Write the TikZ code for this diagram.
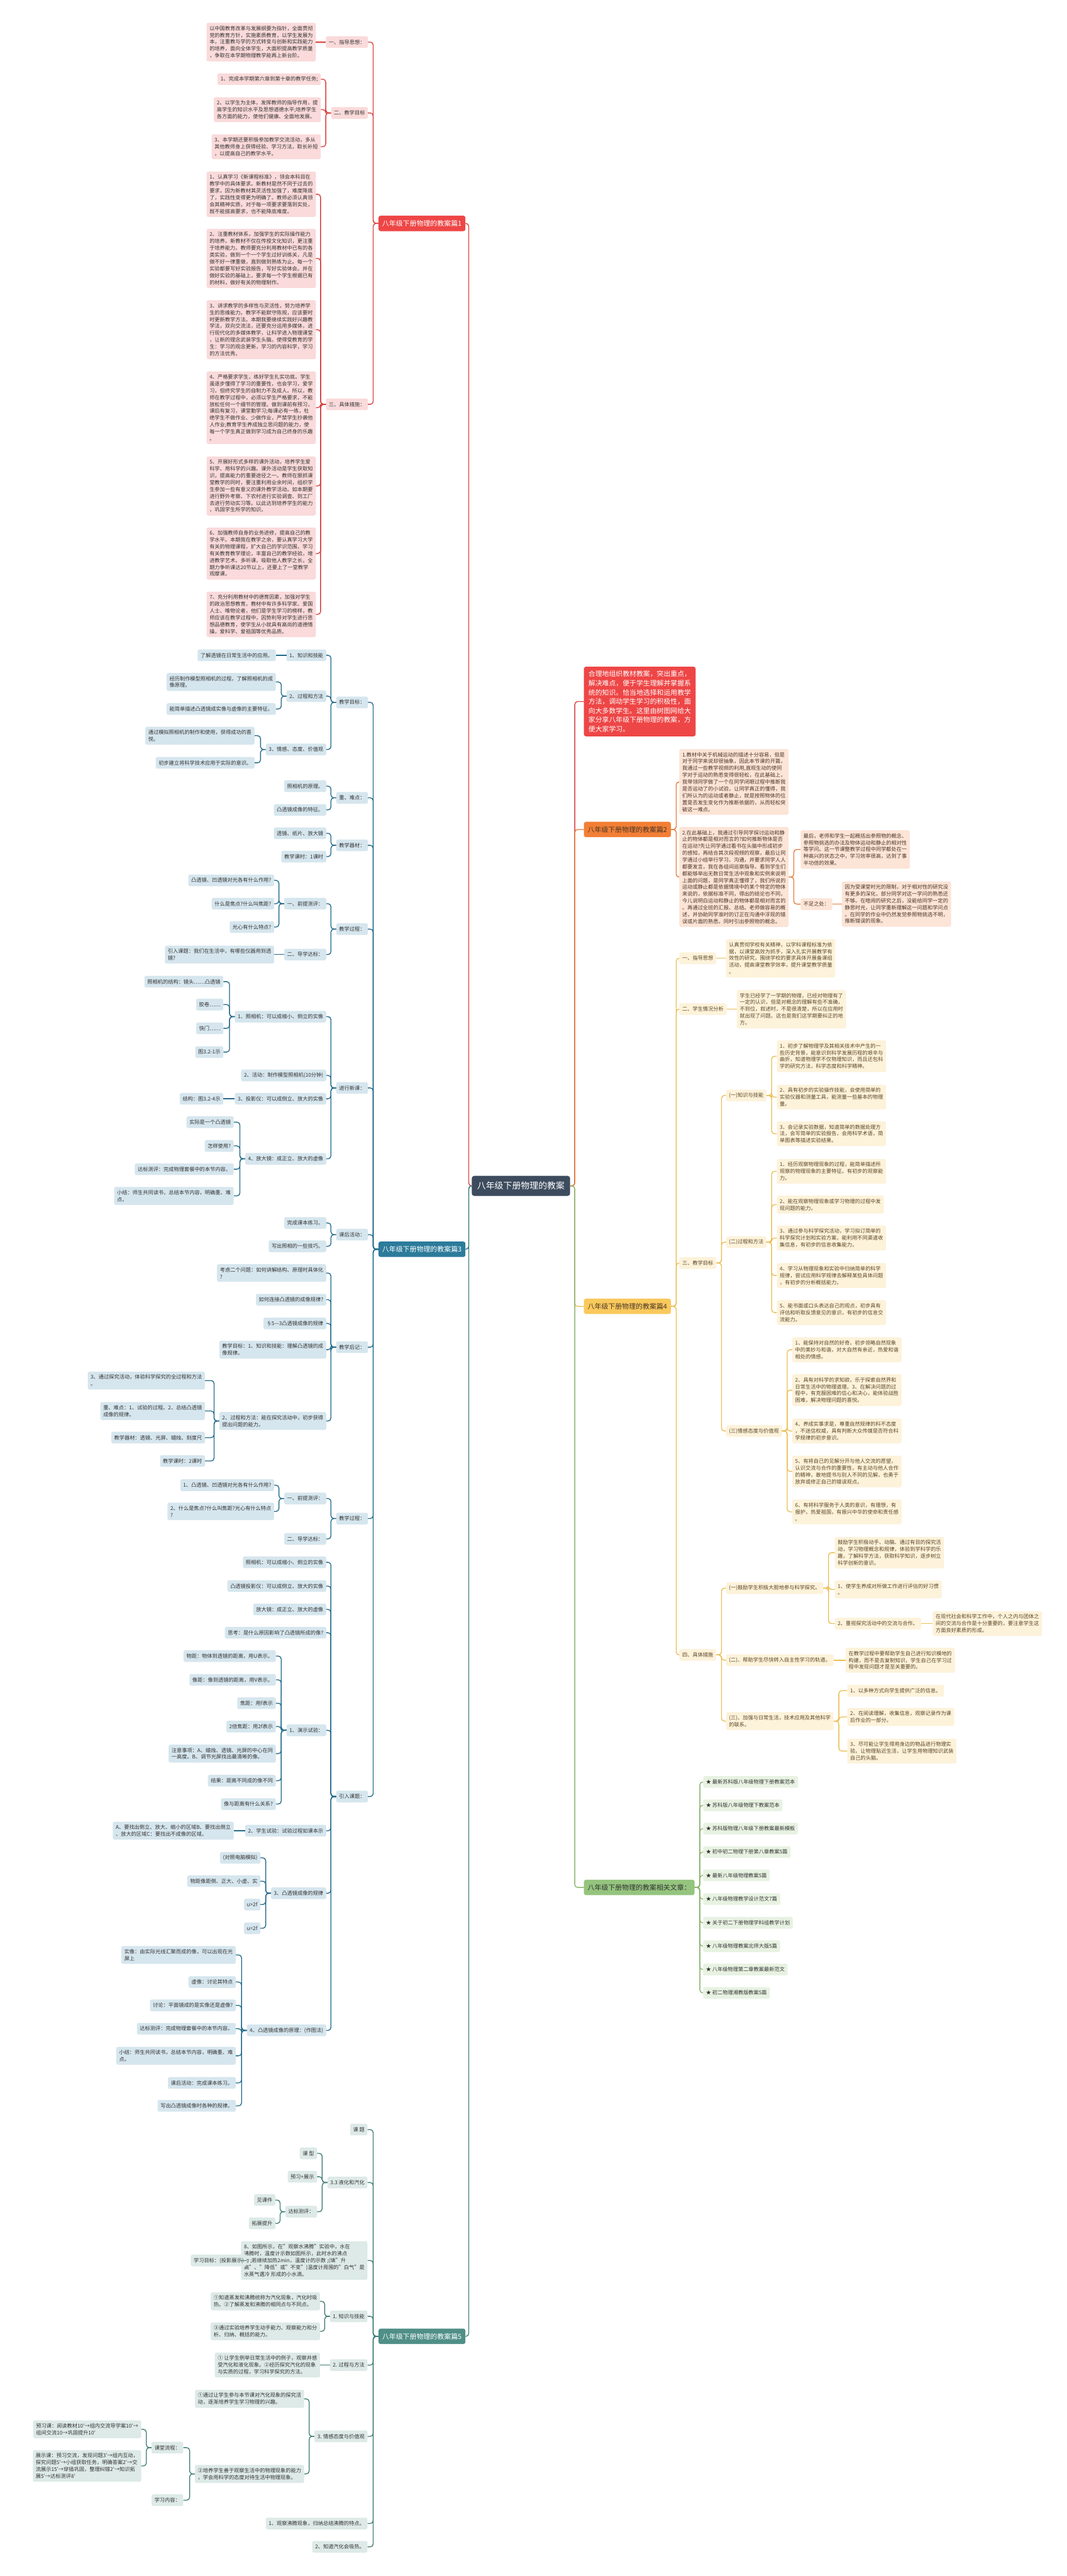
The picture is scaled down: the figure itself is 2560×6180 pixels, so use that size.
\documentclass[tikz,border=0pt]{standalone}
\usepackage{fontspec}
\setmainfont{Noto Sans CJK SC}
\definecolor{redN}{HTML}{EE4646}
\definecolor{redL}{HTML}{D8403F}
\definecolor{pinkF}{HTML}{FADADA}
\definecolor{tealN}{HTML}{2C7B9B}
\definecolor{tealL}{HTML}{22698A}
\definecolor{blueF}{HTML}{D6E6EE}
\definecolor{seaN}{HTML}{4F8F87}
\definecolor{seaL}{HTML}{3F7E76}
\definecolor{seaF}{HTML}{DDEAE7}
\definecolor{ctrN}{HTML}{3D4B5E}
\definecolor{orN}{HTML}{F27F35}
\definecolor{orL}{HTML}{E27A3C}
\definecolor{orF}{HTML}{FCE4D6}
\definecolor{yeN}{HTML}{F9C95C}
\definecolor{yeL}{HTML}{EBBE52}
\definecolor{yeF}{HTML}{FDF2DA}
\definecolor{grN}{HTML}{94C47E}
\definecolor{grL}{HTML}{8BB56F}
\definecolor{grF}{HTML}{E8F2E2}
\definecolor{txtC}{HTML}{333333}
\definecolor{brT}{HTML}{4A3628}
\definecolor{yeT}{HTML}{5A4727}
\newcommand\fsm{\fontsize{12.4}{16.4}\selectfont}
\newcommand\fbig{\fontsize{16.5}{20}\selectfont}
\newcommand\fintro{\fontsize{16.4}{22}\selectfont}
\newcommand\fctr{\fontsize{21}{24}\selectfont}
\newcommand\tol[3]{\foreach \kid in {#3}{\draw[#1] (#2.west) -- ++(-12.5,0) |- (\kid.east);}}
\newcommand\tor[3]{\foreach \kid in {#3}{\draw[#1] (#2.east) -- ++(12.5,0) |- (\kid.west);}}
\newcommand\strL[3]{\draw[#1] (#2.west) -- (#3.east);}
\newcommand\strR[3]{\draw[#1] (#2.east) -- (#3.west);}
\tikzset{
  bx/.style={rounded corners=4pt, inner xsep=7pt, inner ysep=7.5pt, minimum height=28pt, align=left, font=\fsm, text=txtC},
  rbox/.style={bx, fill=pinkF, anchor=east},
  tbox/.style={bx, fill=blueF, anchor=east},
  sbox/.style={bx, fill=seaF, anchor=east},
  obox/.style={bx, fill=orF, anchor=west, text=brT},
  ybox/.style={bx, fill=yeF, anchor=west, text=yeT},
  gbox/.style={bx, fill=grF, anchor=west},
  brn/.style={rounded corners=5pt, inner xsep=9pt, inner ysep=6pt, minimum height=37pt, font=\fbig, anchor=west},
  lnR/.style={draw=redL, line width=2pt, rounded corners=7pt},
  lnT/.style={draw=tealL, line width=2pt, rounded corners=7pt},
  lnS/.style={draw=seaL, line width=2pt, rounded corners=7pt},
  lnO/.style={draw=orL, line width=2pt, rounded corners=7pt},
  lnY/.style={draw=yeL, line width=2pt, rounded corners=7pt},
  lnG/.style={draw=grL, line width=2pt, rounded corners=7pt},
}
\begin{document}
\begin{tikzpicture}[x=1pt,y=-1pt]
\useasboundingbox[fill=white] (0,0) rectangle (2560,6180);
% ---------------- centre
\node[rounded corners=6pt, fill=ctrN, text=white, font=\fctr, inner xsep=13pt, minimum height=48pt] (ctr) at (1250,2845) {八年级下册物理的教案};
% ---------------- 篇1
\node[brn, fill=redN, text=white] (p1) at (908,536) {八年级下册物理的教案篇1};
\node[rbox] (a1) at (883,101) {一、指导思想：};
\node[rbox] (a1t) at (758,101) {以中国教育改革与发展纲要为指针，全面贯彻\\党的教育方针，实施素质教育，以学生发展为\\本，注重教与学的方式转变与创新和实践能力\\的培养，面向全体学生，大面积提高教学质量\\，争取在本学期物理教学能再上新台阶。};
\node[rbox] (a2) at (883,271) {二、教学目标};
\node[rbox] (a2a) at (770,190) {1、完成本学期第六章到第十章的教学任务;};
\node[rbox] (a2b) at (770,263) {2、以学生为主体，发挥教师的指导作用，提\\高学生的知识水平及思想道德水平;培养学生\\各方面的能力，使他们健康、全面地发展。};
\node[rbox] (a2c) at (770,352) {3、本学期还要积极参加教学交流活动，多从\\其他教师身上获得经验、学习方法，取长补短\\，以提高自己的教学水平。};
\node[rbox] (a3) at (883,970) {三、具体措施：};
\node[rbox] (a3a) at (758,466) {1、认真学习《新课程标准》，领会本科目在\\教学中的具体要求。新教材是然不同于过去的\\要求，因为新教材其灵活性加强了，难度降底\\了，实践性变得更为明确了。教师必须认真领\\会其精神实质，对于每一项要求要落到实处，\\既不能拔高要求，也不能降底难度。};
\node[rbox] (a3b) at (758,620) {2、注重教材体系，加强学生的实际操作能力\\的培养。新教材不仅在传授文化知识，更注重\\于培养能力。教师要充分利用教材中已有的各\\类实验，做到一个一个学生过好训练关，凡是\\做不好一律重做，直到做到熟练为止。每一个\\实验都要写好实验报告，写好实验体会。并在\\做好实验的基础上，要求每一个学生根据已有\\的材料，做好有关的物理制作。};
\node[rbox] (a3c) at (758,791) {3、讲求教学的多样性与灵活性，努力培养学\\生的思维能力。教学不能默守陈规，应该要时\\时更新教学方法。本期我要继续实践好兴趣教\\学法，双向交流法，还要充分运用多媒体，进\\行现代化的多媒体教学，让科学进入物理课堂\\，让新的理念武装学生头脑。使得受教育的学\\生：学习的观念更新，学习的内容科学，学习\\的方法优秀。};
\node[rbox] (a3d) at (758,978) {4、严格要求学生，练好学生扎实功底。学生\\虽逐步懂得了学习的重要性，也会学习，爱学\\习，但终究学生的自制力不及成人。所以，教\\师在教学过程中，必须以学生严格要求，不能\\放松任何一个细节的管理。做到课前有预习，\\课后有复习，课堂勤学习;每课必有一练，杜\\绝学生不做作业、少做作业，严禁学生抄袭他\\人作业;教育学生养成独立思问题的能力，使\\每一个学生真正做到学习成为自己终身的乐趣\\。};
\node[rbox] (a3e) at (758,1166) {5、开展好形式多样的课外活动，培养学生爱\\科学、用科学的兴趣。课外活动是学生获取知\\识，提高能力的重要途径之一。教师在狠抓课\\堂教学的同时，要注重利用业余时间，组织学\\生参加一些有意义的课外教学活动。如本期要\\进行野外考察、下农村进行实验调查、到工厂\\去进行劳动实习等。以此达到培养学生的能力\\，巩固学生所学的知识。};
\node[rbox] (a3f) at (758,1328) {6、加强教师自身的业务进修，提高自己的教\\学水平。本期我在教学之余，要认真学习大学\\有关的物理课程，扩大自己的学识范围，学习\\有关教育教学理论，丰富自己的教学经验，增\\进教学艺术。多听课，吸取他人教学之长，全\\期力争听课达20节以上，还要上了一堂教学\\观摩课。};
\node[rbox] (a3g) at (758,1474) {7、充分利用教材中的德育因素，加强对学生\\的政治思想教育。教材中有许多科学家、爱国\\人士、唯物论者，他们是学生学习的榜样，教\\师应该在教学过程中，因势利导对学生进行思\\想品德教育，使学生从小就具有高尚的道德情\\操，爱科学、爱祖国等优秀品质。};
\tol{lnR}{p1}{a1,a2,a3}
\strL{lnR}{a1}{a1t}
\tol{lnR}{a2}{a2a,a2b,a2c}
\tol{lnR}{a3}{a3a,a3b,a3c,a3d,a3e,a3f,a3g}
% ---------------- 篇3
\node[brn, fill=tealN, text=white] (p3) at (908,2997) {八年级下册物理的教案篇3};
\node[tbox] (b1) at (883,1685) {教学目标：};
\node[tbox] (b2) at (883,1914) {重、难点：};
\node[tbox] (b3) at (883,2028) {教学器材：};
\node[tbox] (b4) at (883,2229) {教学过程：};
\node[tbox] (b5) at (883,2610) {进行新课：};
\node[tbox] (b6) at (883,2962) {课后活动：};
\node[tbox] (b7) at (883,3232) {教学后记：};
\node[tbox] (b8) at (883,3643) {教学过程：};
\node[tbox] (b9) at (883,4310) {引入课题：};
\node[tbox] (b1a) at (783,1572) {1、知识和技能};
\node[tbox] (b1b) at (783,1670) {2、过程和方法};
\node[tbox] (b1c) at (783,1798) {3、情感、态度、价值观};
\node[tbox] (b1a1) at (662,1572) {了解透镜在日常生活中的应用。};
\node[tbox] (b1b1) at (662,1636) {经历制作模型照相机的过程，了解照相机的成\\像原理。};
\node[tbox] (b1b2) at (662,1701) {能简单描述凸透镜成实像与虚像的主要特征。};
\node[tbox] (b1c1) at (611,1765) {通过模拟照相机的制作和使用，获得成功的喜\\悦。};
\node[tbox] (b1c2) at (611,1830) {初步建立将科学技术应用于实际的意识。};
\node[tbox] (b2a) at (783,1886) {照相机的原理。};
\node[tbox] (b2b) at (783,1943) {凸透镜成像的特征。};
\node[tbox] (b3a) at (783,1999) {透镜、纸片、放大镜};
\node[tbox] (b3b) at (783,2055) {教学课时：1课时};
\node[tbox] (b4a) at (783,2168) {一、前提测评：};
\node[tbox] (b4b) at (783,2290) {二、导学达标：};
\node[tbox] (b4a1) at (658,2112) {凸透镜、凹透镜对光各有什么作用?};
\node[tbox] (b4a2) at (658,2168) {什么是焦点?什么叫焦距?};
\node[tbox] (b4a3) at (658,2224) {光心有什么特点?};
\node[tbox] (b4b1) at (658,2290) {引入课题：我们在生活中，有哪些仪器用到透\\镜?};
\node[tbox] (b5a) at (783,2439) {1、照相机：可以成缩小、倒立的实像};
\node[tbox] (b5b) at (783,2580) {2、活动：制作模型照相机(10分钟)};
\node[tbox] (b5c) at (783,2636) {3、投影仪：可以成倒立、放大的实像};
\node[tbox] (b5d) at (783,2780) {4、放大镜：成正立、放大的虚像};
\node[tbox] (b5a1) at (536,2355) {照相机的结构：镜头……凸透镜};
\node[tbox] (b5a2) at (536,2410) {胶卷……};
\node[tbox] (b5a3) at (536,2467) {快门……};
\node[tbox] (b5a4) at (536,2524) {图3.2-1示};
\node[tbox] (b5c1) at (536,2636) {结构：图3.2-4示};
\node[tbox] (b5d1) at (561,2692) {实际是一个凸透镜};
\node[tbox] (b5d2) at (561,2749) {怎样使用?};
\node[tbox] (b5d3) at (561,2805) {达标测评：完成物理套餐中的本节内容。};
\node[tbox] (b5d4) at (561,2869) {小结：师生共同读书，总结本节内容，明确重、难\\点。};
\node[tbox] (b6a) at (783,2934) {完成课本练习。};
\node[tbox] (b6b) at (783,2990) {写出照相的一些技巧。};
\node[tbox] (b7a) at (783,3054) {考虑二个问题：如何讲解结构、原理时具体化\\?};
\node[tbox] (b7b) at (783,3118) {如何连接凸透镜的成像规律?};
\node[tbox] (b7c) at (783,3175) {§5—3凸透镜成像的规律};
\node[tbox] (b7d) at (783,3238) {教学目标：1、知识和技能：理解凸透镜的成\\像规律。};
\node[tbox] (b7e) at (783,3409) {2、过程和方法：能在探究活动中，初步获得\\提出问题的能力。};
\node[tbox] (b7e1) at (492,3312) {3、通过探究活动，体验科学探究的全过程和方法\\。};
\node[tbox] (b7e2) at (492,3385) {重、难点：1、试验的过程。2、总结凸透镜\\成像的规律。};
\node[tbox] (b7e3) at (492,3449) {教学器材：透镜、光屏、蜡烛、刻度尺};
\node[tbox] (b7e4) at (492,3505) {教学课时：2课时};
\node[tbox] (b8a) at (783,3595) {一、前提测评：};
\node[tbox] (b8b) at (783,3692) {二、导学达标：};
\node[tbox] (b8a1) at (658,3563) {1、凸透镜、凹透镜对光各有什么作用?};
\node[tbox] (b8a2) at (658,3626) {2、什么是焦点?什么叫焦距?光心有什么特点\\?};
\node[tbox] (b9a) at (783,3748) {照相机：可以成缩小、倒立的实像};
\node[tbox] (b9b) at (783,3805) {凸透镜投影仪：可以成倒立、放大的实像};
\node[tbox] (b9c) at (783,3861) {放大镜：成正立、放大的虚像};
\node[tbox] (b9d) at (783,3917) {思考：是什么原因影响了凸透镜所成的像?};
\node[tbox] (b9e) at (783,4151) {1、演示试验：};
\node[tbox] (b9f) at (783,4392) {2、学生试验：试验过程如课本示};
\node[tbox] (b9g) at (783,4542) {3、凸透镜成像的规律};
\node[tbox] (b9h) at (783,4871) {4、凸透镜成像的原理：(作图法)};
\node[tbox] (b9e1) at (662,3973) {物距：物体到透镜的距离，用U表示。};
\node[tbox] (b9e2) at (662,4030) {像距：像到透镜的距离，用V表示。};
\node[tbox] (b9e3) at (662,4086) {焦距：用f表示};
\node[tbox] (b9e4) at (662,4142) {2倍焦距：用2f表示};
\node[tbox] (b9e5) at (662,4207) {注意事项：A、蜡烛、透镜、光屏的中心在同\\一高度。B、调节光屏找出最清晰的像。};
\node[tbox] (b9e6) at (662,4272) {结果：距离不同成的像不同};
\node[tbox] (b9e7) at (662,4328) {像与距离有什么关系?};
\node[tbox] (b9f1) at (561,4392) {A、要找出倒立、放大、缩小的区域B、要找出倒立\\、放大的区域C：要找出不成像的区域。};
\node[tbox] (b9g1) at (625,4457) {(对照电脑模拟)};
\node[tbox] (b9g2) at (625,4513) {物距像距倒、正大、小虚、实};
\node[tbox] (b9g3) at (625,4569) {u>2f};
\node[tbox] (b9g4) at (625,4626) {u=2f};
\node[tbox] (b9h1) at (566,4690) {实像：由实际光线汇聚而成的像，可以出现在光\\屏上};
\node[tbox] (b9h2) at (566,4755) {虚像：讨论其特点};
\node[tbox] (b9h3) at (566,4811) {讨论：平面镜成的是实像还是虚像?};
\node[tbox] (b9h4) at (566,4867) {达标测评：完成物理套餐中的本节内容。};
\node[tbox] (b9h5) at (566,4932) {小结：师生共同读书，总结本节内容，明确重、难\\点。};
\node[tbox] (b9h6) at (566,4997) {课后活动：完成课本练习。};
\node[tbox] (b9h7) at (566,5052) {写出凸透镜成像时各种的规律。};
\tol{lnT}{p3}{b1,b2,b3,b4,b5,b6,b7,b8,b9}
\tol{lnT}{b1}{b1a,b1b,b1c}
\strL{lnT}{b1a}{b1a1}
\tol{lnT}{b1b}{b1b1,b1b2}
\tol{lnT}{b1c}{b1c1,b1c2}
\tol{lnT}{b2}{b2a,b2b}
\tol{lnT}{b3}{b3a,b3b}
\tol{lnT}{b4}{b4a,b4b}
\tol{lnT}{b4a}{b4a1,b4a2,b4a3}
\strL{lnT}{b4b}{b4b1}
\tol{lnT}{b5}{b5a,b5b,b5c,b5d}
\tol{lnT}{b5a}{b5a1,b5a2,b5a3,b5a4}
\strL{lnT}{b5c}{b5c1}
\tol{lnT}{b5d}{b5d1,b5d2,b5d3,b5d4}
\tol{lnT}{b6}{b6a,b6b}
\tol{lnT}{b7}{b7a,b7b,b7c,b7d,b7e}
\tol{lnT}{b7e}{b7e1,b7e2,b7e3,b7e4}
\tol{lnT}{b8}{b8a,b8b}
\tol{lnT}{b8a}{b8a1,b8a2}
\tol{lnT}{b9}{b9a,b9b,b9c,b9d,b9e,b9f,b9g,b9h}
\tol{lnT}{b9e}{b9e1,b9e2,b9e3,b9e4,b9e5,b9e6,b9e7}
\strL{lnT}{b9f}{b9f1}
\tol{lnT}{b9g}{b9g1,b9g2,b9g3,b9g4}
\tol{lnT}{b9h}{b9h1,b9h2,b9h3,b9h4,b9h5,b9h6,b9h7}
% ---------------- 篇5
\node[brn, fill=seaN, text=white] (p5) at (908,5605) {八年级下册物理的教案篇5};
\node[sbox] (c1) at (882,5109) {课 题};
\node[sbox] (c2) at (882,5236) {3.3 液化和汽化};
\node[sbox] (c3) at (882,5423) {8、如图所示，在"观察水沸腾"实验中，水在\\沸腾时，温度计示数如图所示，此时水的沸点\\为 ;若继续加热2min，温度计的示数 ;(填"升\\高"、"降低"或"不变")温度计周围的"白气"是\\水蒸气遇冷 形成的小水滴。};
\node[sbox] (c4) at (882,5557) {1. 知识与技能};
\node[sbox] (c5) at (882,5674) {2. 过程与方法};
\node[sbox] (c6) at (882,5845) {3. 情感态度与价值观};
\node[sbox] (c7) at (882,6054) {1、观察沸腾现象，归纳总结沸腾的特点。};
\node[sbox] (c8) at (882,6110) {2、知道汽化会吸热。};
\node[sbox] (c2a) at (761,5166) {课 型};
\node[sbox] (c2b) at (761,5222) {预习+展示};
\node[sbox] (c2c) at (761,5306) {达标测评：};
\node[sbox] (c2c1) at (661,5278) {见课件};
\node[sbox] (c2c2) at (661,5334) {拓展提升};
\node[sbox] (c3a) at (592,5423) {学习目标：(投影展示)};
\node[sbox] (c4a) at (768,5521) {①知道蒸发和沸腾统称为汽化现象，汽化时吸\\热。②了解蒸发和沸腾的相同点与不同点。};
\node[sbox] (c4b) at (768,5593) {③通过实验培养学生动手能力、观察能力和分\\析、归纳、概括的能力。};
\node[sbox] (c5a) at (768,5674) {① 让学生例举日常生活中的例子，观察并感\\受汽化和液化现象。②经历探究汽化的现象\\与实质的过程，学习科学探究的方法。};
\node[sbox] (c6a) at (730,5755) {①通过让学生参与本节课对汽化现象的探究活\\动，逐渐培养学生学习物理的兴趣。};
\node[sbox] (c6b) at (730,5935) {②培养学生善于观察生活中的物理现象的能力\\，学会用科学的态度对待生活中物理现象。};
\node[sbox] (c6b1) at (440,5872) {课堂流程：};
\node[sbox] (c6b2) at (440,5998) {学习内容：};
\node[sbox] (c6b1a) at (339,5828) {预习课：阅读教材10′→组内交流导学案10′→\\组间交流10→巩固提升10′};
\node[sbox] (c6b1b) at (339,5916) {展示课：预习交流，发现问题3′→组内互动，\\探究问题5′→小组获取任务，明确答案2′→交\\流展示15′→穿插巩固，整理纠错2′→知识拓\\展5′→达标测评8′};
\tol{lnS}{p5}{c1,c2,c3,c4,c5,c6,c7,c8}
\tol{lnS}{c2}{c2a,c2b,c2c}
\tol{lnS}{c2c}{c2c1,c2c2}
\strL{lnS}{c3}{c3a}
\tol{lnS}{c4}{c4a,c4b}
\strL{lnS}{c5}{c5a}
\tol{lnS}{c6}{c6a,c6b}
\tol{lnS}{c6b}{c6b1,c6b2}
\tol{lnS}{c6b1}{c6b1a,c6b1b}
% ---------------- right: intro
\node[rounded corners=5pt, fill=redN, text=white, font=\fintro, align=left, inner xsep=11pt, inner ysep=10pt, anchor=west] (intro) at (1401,1683) {合理地组织教材教案，突出重点，\\解决难点，便于学生理解并掌握系\\统的知识。恰当地选择和运用教学\\方法，调动学生学习的积极性，面\\向大多数学生。这里由树图网给大\\家分享八年级下册物理的教案，方\\便大家学习。};
% ---------------- 篇2
\node[brn, fill=orN, text=brT] (p2) at (1401,1990) {八年级下册物理的教案篇2};
\node[obox] (d1) at (1630,1876) {1.教材中关于机械运动的描述十分容易，但是\\对于同学来说却很抽象，因此本节课的开篇，\\我通过一些教学视频的利用,直观生动的使同\\学对于运动的熟悉变得很轻松，在此基础上，\\我带领同学做了一个在同学闭眼过程中推断我\\是否运动了的小试验，让同学真正的懂得，我\\们所认为的运动或者静止，就是按照物体的位\\置是否发生变化作为推断依据的，从而轻松突\\破这一难点。};
\node[obox] (d2) at (1630,2104) {2.在此基础上，我通过引导同学探讨运动和静\\止的物体都是相对而言的?如何推断物体是否\\在运动?先让同学通过看书在头脑中形成初步\\的感知，再结合其次段视频的观察，最后让同\\学通过小组举行学习、沟通，并要求同学人人\\都要发言，我在各组间巡察指导。看到学生们\\都能够举出无数日常生活中现象和实例来说明\\上面的问题，是同学真正懂得了，我们所说的\\运动或静止都是依据情境中的某个特定的物体\\来说的，依据标准不同，得出的结论也不同，\\今儿说明白运动和静止的物体都是相对而言的\\。再通过全班的汇报、总结。老师做容易的概\\述，并协助同学准时的订正在沟通中浮现的错\\误或片面的熟悉。同时引出参照物的概念。};
\node[obox] (d2a) at (1921,2038) {最后，老师和学生一起概括出参照物的概念、\\参照物挑选的办法及物体运动和静止的相对性\\等学问。这一节课整教学过程中同学都处在一\\种高兴的状态之中，学习效率很高，达到了事\\半功倍的效果。};
\node[obox] (d2b) at (1921,2169) {不足之处：};
\node[obox] (d2b1) at (2020,2169) {因为受课堂时光的限制，对于相对性的研究没\\有更多的深化，部分同学对这一学问的熟悉还\\不够。在喧闹的研究之后，没能给同学一定的\\静思时光，让同学重新理解这一问题和学问点\\。在同学的作业中仍然发觉参照物挑选不明，\\推断错误的现象。};
\tor{lnO}{p2}{d1,d2}
\tor{lnO}{d2}{d2a,d2b}
\strR{lnO}{d2b}{d2b1}
% ---------------- 篇4
\node[brn, fill=yeN, text=brT] (p4) at (1401,3134) {八年级下册物理的教案篇4};
\node[ybox] (e1) at (1630,2299) {一、指导思想};
\node[ybox] (e1a) at (1742,2299) {认真贯彻学校有关精神，以学科课程标准为依\\据，以课堂高效为抓手，深入扎实开展教学有\\效性的研究，围绕学校的要求具体开展备课组\\活动，提高课堂教学效率，提升课堂教学质量\\。};
\node[ybox] (e2) at (1630,2421) {二、学生情况分析};
\node[ybox] (e2a) at (1768,2421) {学生已经学了一学期的物理，已经对物理有了\\一定的认识，但是对概念的理解有些不准确，\\不到位，叙述时，不是很清楚，所以在应用时\\就出现了问题。这也是我们这学期要纠正的地\\方。};
\node[ybox] (e3) at (1630,3030) {三、教学目标};
\node[ybox] (e3a) at (1742,2628) {(一)知识与技能};
\node[ybox] (e3a1) at (1864,2534) {1、初步了解物理学及其相关技术中产生的一\\些历史背景，能意识到科学发展历程的艰辛与\\曲折，知道物理学不仅物理知识，而且还包科\\学的研究方法，科学态度和科学精神。};
\node[ybox] (e3a2) at (1864,2632) {2、具有初步的实验操作技能，会使用简单的\\实验仪器和测量工具，能测量一些基本的物理\\量。};
\node[ybox] (e3a3) at (1864,2720) {3、会记录实验数据，知道简单的数据处理方\\法，会写简单的实验报告，会用科学术语，简\\单图表等描述实验结果。};
\node[ybox] (e3b) at (1742,2980) {(二)过程和方法};
\node[ybox] (e3b1) at (1864,2810) {1、经历观察物理现象的过程，能简单描述所\\观察的物理现象的主要特征。有初步的观察能\\力。};
\node[ybox] (e3b2) at (1864,2890) {2、能在观察物理现象或学习物理的过程中发\\现问题的能力。};
\node[ybox] (e3b3) at (1864,2970) {3、通过参与科学探究活动，学习拟订简单的\\科学探究计划和实验方案，能利用不同渠道收\\集信息，有初步的信息收集能力。};
\node[ybox] (e3b4) at (1864,3060) {4、学习从物理现象和实验中归纳简单的科学\\规律，尝试应用科学规律去解释某些具体问题\\，有初步的分析概括能力。};
\node[ybox] (e3b5) at (1864,3149) {5、能书面或口头表达自己的观点，初步具有\\评估和听取反馈意见的意识，有初步的信息交\\流能力。};
\node[ybox] (e3c) at (1742,3433) {(三)情感态度与价值观};
\node[ybox] (e3c1) at (1901,3238) {1、能保持对自然的好奇，初步领略自然现象\\中的美妙与和谐，对大自然有亲近，热爱和谐\\相处的情感。};
\node[ybox] (e3c2) at (1901,3335) {2、具有对科学的求知欲，乐于探索自然界和\\日常生活中的物理道理。3、在解决问题的过\\程中，有克服困难的信心和决心，能体验战胜\\困难，解决物理问题的喜悦。};
\node[ybox] (e3c3) at (1901,3433) {4、养成实事求是，尊重自然规律的科不态度\\，不迷信权威，具有判断大众传媒是否符合科\\学规律的初步意识。};
\node[ybox] (e3c4) at (1901,3530) {5、有将自己的见解分开与他人交流的愿望，\\认识交流与合作的重要性，有主动与他人合作\\的精神，敢地提书与别人不同的见解，也勇于\\放弃或修正自己的错误观点。};
\node[ybox] (e3c5) at (1901,3627) {6、有将科学服务于人类的意识，有理想，有\\报护，热爱祖国，有振兴中华的使命和责任感\\。};
\node[ybox] (e4) at (1630,3970) {四、具体措施};
\node[ybox] (e4a) at (1742,3810) {(一)鼓励学生积极大胆地参与科学探究。};
\node[ybox] (e4a1) at (2003,3725) {鼓励学生积极动手、动脑、通过有目的探究活\\动，学习物理概念和规律，体验到学科学的乐\\趣，了解科学方法，获取科学知识，逐步树立\\科学创新的意识。};
\node[ybox] (e4a2) at (2003,3813) {1、使学生养成对所做工作进行评估的好习惯\\。};
\node[ybox] (e4a3) at (2003,3895) {2、重视探究活动中的交流与合作。};
\node[ybox] (e4a3a) at (2238,3895) {在现代社会和科学工作中，个人之内与团体之\\间的交流与合作是十分重要的，要注意学生这\\方面良好素质的形成。};
\node[ybox] (e4b) at (1742,3983) {(二)、帮助学生尽快转入自主性学习的轨道。};
\node[ybox] (e4b1) at (2029,3983) {在教学过程中要帮助学生自己进行知识模地的\\构建，而不是去复制知识，学生自己在学习过\\程中发现问题才是至关重要的。};
\node[ybox] (e4c) at (1742,4129) {(三)、加强与日常生活，技术应用及其他科学\\的联系。};
\node[ybox] (e4c1) at (2033,4056) {1、以多种方式向学生提供广泛的信息。};
\node[ybox] (e4c2) at (2033,4119) {2、在阅读理解，收集信息，观察记录作为课\\后作业的一部分。};
\node[ybox] (e4c3) at (2033,4201) {3、尽可能让学生得用身边的物品进行物理实\\验。让物理贴近生活，让学生用物理知识武装\\自己的头脑。};
\tor{lnY}{p4}{e1,e2,e3,e4}
\strR{lnY}{e1}{e1a}
\strR{lnY}{e2}{e2a}
\tor{lnY}{e3}{e3a,e3b,e3c}
\tor{lnY}{e3a}{e3a1,e3a2,e3a3}
\tor{lnY}{e3b}{e3b1,e3b2,e3b3,e3b4,e3b5}
\tor{lnY}{e3c}{e3c1,e3c2,e3c3,e3c4,e3c5}
\tor{lnY}{e4}{e4a,e4b,e4c}
\tor{lnY}{e4a}{e4a1,e4a2,e4a3}
\strR{lnY}{e4a3}{e4a3a}
\strR{lnY}{e4b}{e4b1}
\tor{lnY}{e4c}{e4c1,e4c2,e4c3}
% ---------------- related
\node[brn, fill=grN, text=txtC] (p6) at (1401,4528) {八年级下册物理的教案相关文章：};
\node[gbox] (f1) at (1687,4275) {★ 最新苏科版八年级物理下册教案范本};
\node[gbox] (f2) at (1687,4331) {★ 苏科版八年级物理下教案范本};
\node[gbox] (f3) at (1687,4387) {★ 苏科版物理八年级下册教案最新模板};
\node[gbox] (f4) at (1687,4443) {★ 初中初二物理下册第八章教案5篇};
\node[gbox] (f5) at (1687,4499) {★ 最新八年级物理教案5篇};
\node[gbox] (f6) at (1687,4556) {★ 八年级物理教学设计范文7篇};
\node[gbox] (f7) at (1687,4613) {★ 关于初二下册物理学科组教学计划};
\node[gbox] (f8) at (1687,4669) {★ 八年级物理教案北师大版5篇};
\node[gbox] (f9) at (1687,4725) {★ 八年级物理第二章教案最新范文};
\node[gbox] (f10) at (1687,4781) {★ 初二物理湘教版教案5篇};
\tor{lnG}{p6}{f1,f2,f3,f4,f5,f6,f7,f8,f9,f10}
% ---------------- centre connectors
\draw[lnR] (ctr.west) -- ++(-7,0) |- (p1.east);
\draw[lnT] (ctr.west) -- ++(-7,0) |- (p3.east);
\draw[lnS] (ctr.west) -- ++(-7,0) |- (p5.east);
\draw[lnR] (ctr.east) -- ++(11,0) |- (intro.west);
\draw[lnO] (ctr.east) -- ++(11,0) |- (p2.west);
\draw[lnY] (ctr.east) -- ++(11,0) |- (p4.west);
\draw[lnG] (ctr.east) -- ++(11,0) |- (p6.west);
\end{tikzpicture}
\end{document}
